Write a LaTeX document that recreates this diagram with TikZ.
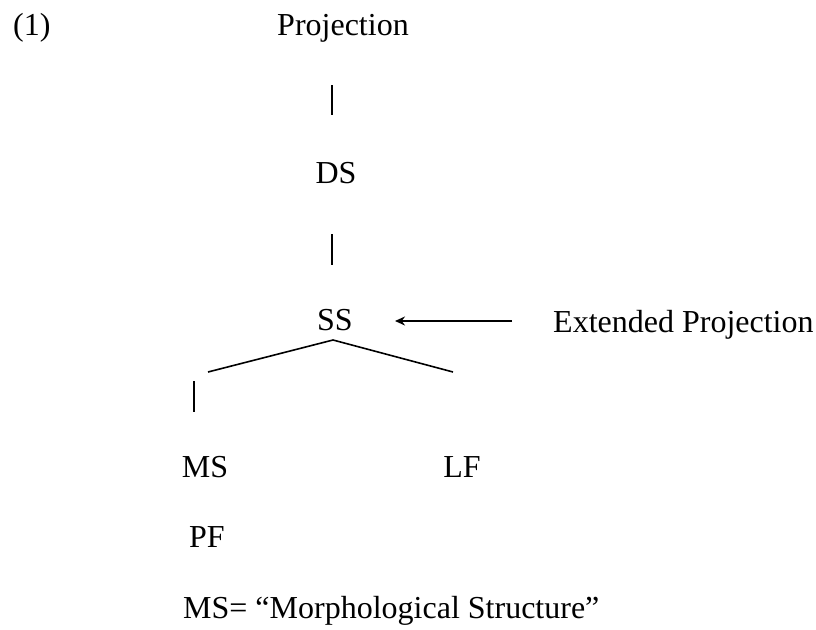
\documentclass[tikz,border=0pt]{standalone}
\usepackage{fontspec}
\setmainfont{Liberation Serif}
\usetikzlibrary{arrows.meta}
\begin{document}
\begin{tikzpicture}[x=1pt,y=-1pt,
  lbl/.style={inner sep=0pt,anchor=base,font=\fontsize{32}{38}\selectfont},
  lblw/.style={lbl,anchor=base west},
  edge/.style={line width=1.6pt},
  pointer/.style={line width=2.2pt,-{Stealth[length=10pt,width=9pt]}}]
  \useasboundingbox (0,0) rectangle (816,629);

  % labels
  \node[lblw] (num)  at (13,35)   {(1)};
  \node[lbl]  (proj) at (343,35)  {Projection};
  \node[lbl]  (ds)   at (336,183) {DS};
  \node[lbl]  (ss)   at (335,330) {SS};
  \node[lblw] (ext)  at (553,332) {Extended Projection};
  \node[lbl]  (ms)   at (205,477) {MS};
  \node[lbl]  (lf)   at (462,477) {LF};
  \node[lbl]  (pf)   at (207,547) {PF};
  \node[lblw] (note) at (183,618) {MS= ``Morphological Structure''};

  % stroke ends
  \coordinate (p1) at (332,85);  \coordinate (d1) at (332,115);
  \coordinate (d2) at (332,234); \coordinate (s1) at (332,265);
  \coordinate (top) at (333,340);
  \coordinate (lbr) at (208,372); \coordinate (rbr) at (453,372);
  \coordinate (m1) at (194,381); \coordinate (m2) at (194,412);
  \coordinate (a1) at (512,321); \coordinate (a2) at (395,321);

  % tree
  \draw[edge] (p1) -- (d1);
  \draw[edge] (d2) -- (s1);
  \draw[edge] (lbr) -- (top) -- (rbr);
  \draw[edge] (m1) -- (m2);

  % arrow to SS
  \draw[pointer] (a1) -- (a2);
\end{tikzpicture}
\end{document}
